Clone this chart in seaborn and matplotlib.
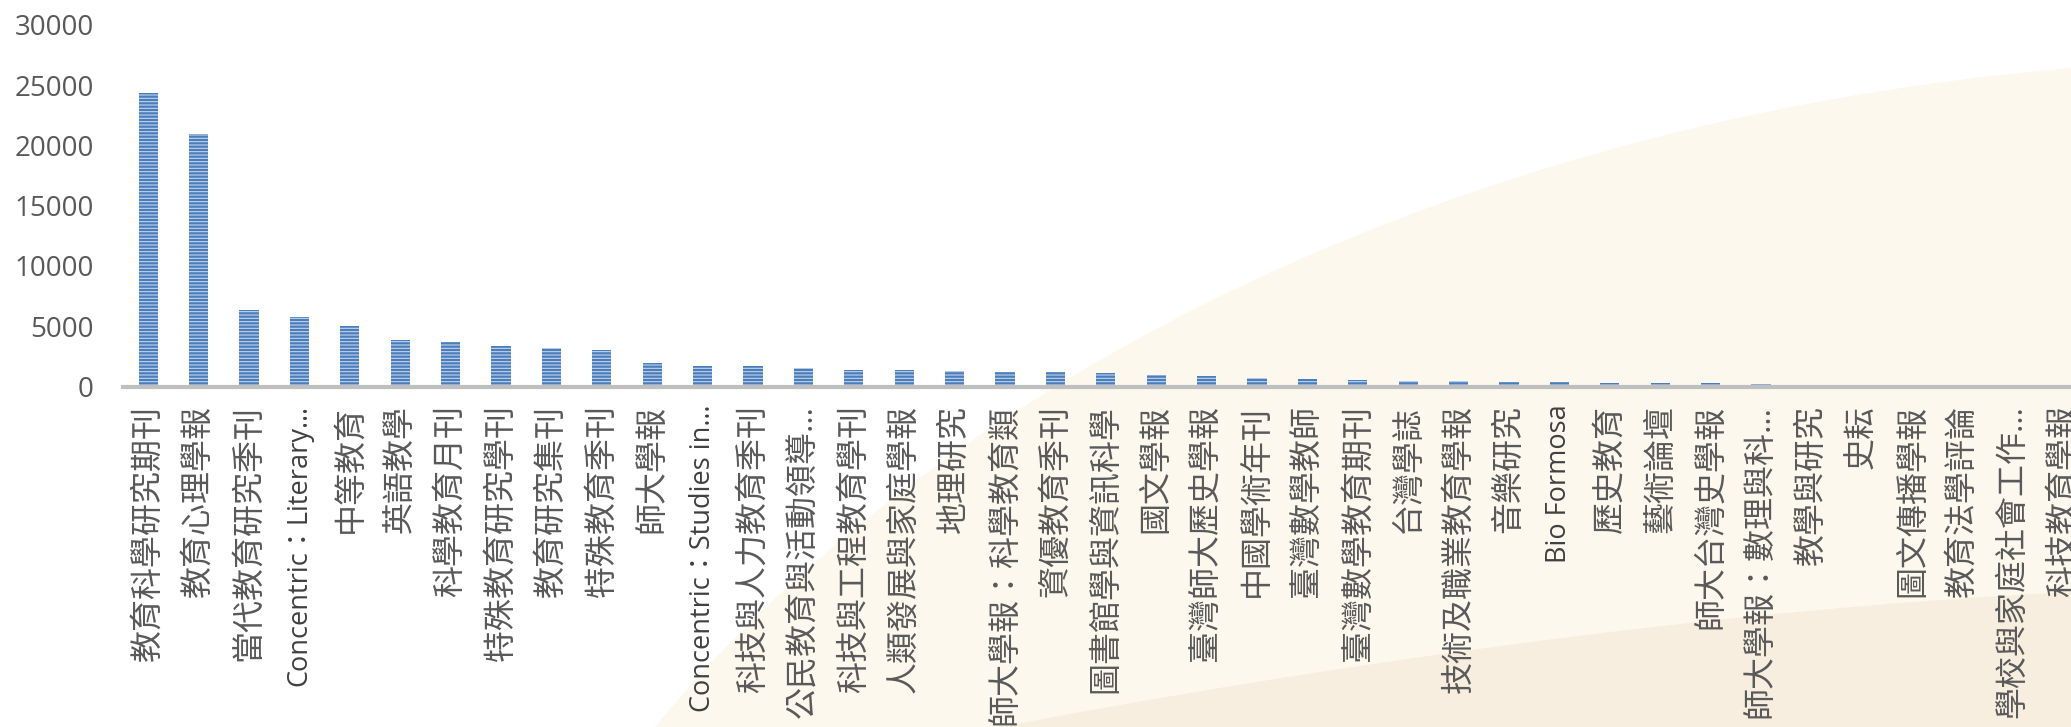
# 期刊下載量長條圖 (重繪)
import matplotlib
matplotlib.use('Agg')
import matplotlib.pyplot as plt
import matplotlib.patches as mpatches
from matplotlib.path import Path
import seaborn as sns
import re

# --- 資料 ---
journals = [
    '教育科學研究期刊', '教育心理學報', '當代教育研究季刊', 'Concentric：Literary…',
    '中等教育', '英語教學', '科學教育月刊', '特殊教育研究學刊', '教育研究集刊',
    '特殊教育季刊', '師大學報', 'Concentric：Studies in…', '科技與人力教育季刊',
    '公民教育與活動領導…', '科技與工程教育學刊', '人類發展與家庭學報', '地理研究',
    '師大學報：科學教育類', '資優教育季刊', '圖書館學與資訊科學', '國文學報',
    '臺灣師大歷史學報', '中國學術年刊', '臺灣數學教師', '臺灣數學教育期刊', '台灣學誌',
    '技術及職業教育學報', '音樂研究', 'Bio Formosa', '歷史教育', '藝術論壇',
    '師大台灣史學報', '師大學報：數理與科…', '教學與研究', '史耘', '圖文傳播學報',
    '教育法學評論', '學校與家庭社會工作…', '科技教育學報',
]
counts = [
    24350, 20950, 6340, 5750, 4990, 3880, 3690, 3330, 3220, 3030,
    1945, 1735, 1695, 1565, 1400, 1390, 1250, 1180, 1180, 1105,
    950, 880, 720, 660, 520, 460, 440, 410, 400, 310,
    280, 250, 170, 140, 130, 0, 0, 0, 0,
]
yticks = [0, 5000, 10000, 15000, 20000, 25000, 30000]

W, H = 2071, 727
TEXT = '#595959'

sns.set_style('white')
plt.rcParams['font.family'] = ['Open Sans', 'Noto Sans CJK TC', 'DejaVu Sans']
plt.rcParams['hatch.linewidth'] = 0.8

fig = plt.figure(figsize=(W / 100, H / 100), dpi=100)
fig.patch.set_facecolor('white')


def fp(x, y):
    # 像素 (由上往下) -> figure 比例座標
    return (x / W, 1 - y / H)


# --- 背景裝飾曲面 ---
light = [fp(655, 727), fp(905, 420), fp(1400, 125), fp(2071, 68),
         fp(2071, 727), fp(655, 727)]
codes = [Path.MOVETO, Path.CURVE4, Path.CURVE4, Path.CURVE4, Path.LINETO, Path.CLOSEPOLY]
fig.patches.append(mpatches.PathPatch(Path(light, codes), facecolor='#fcf8ee',
                                      edgecolor='none', transform=fig.transFigure, zorder=-2))
dark = [fp(1000, 727), fp(1300, 670), fp(1700, 610), fp(2071, 592),
        fp(2071, 727), fp(1000, 727)]
fig.patches.append(mpatches.PathPatch(Path(dark, codes), facecolor='#f8eedf',
                                      edgecolor='none', transform=fig.transFigure, zorder=-1))

ax = fig.add_axes([123 / W, 1 - 386.5 / H, 1 - 123 / W, 361.5 / H])
ax.set_facecolor('none')

sns.barplot(x=journals, y=counts, color='#4a7dbb', width=0.38, ax=ax,
            saturation=1, linewidth=0)
for p in ax.patches:
    p.set_hatch('-----')
    p.set_edgecolor('#c4d4ec')
    p.set_linewidth(0)

ax.set_xlim(-0.5, 38.15)
ax.set_ylim(0, 30000)
ax.set_yticks(yticks)
ax.set_yticklabels([str(v) for v in yticks])
ax.set_xlabel('')
ax.set_ylabel('')

for s in ['top', 'right', 'left']:
    ax.spines[s].set_visible(False)
ax.spines['bottom'].set_color('#bfbfbf')
ax.spines['bottom'].set_linewidth(3)
ax.spines['bottom'].set_zorder(5)

ax.tick_params(axis='y', length=0, pad=21, labelsize=20, labelcolor=TEXT)
ax.tick_params(axis='x', length=0, pad=13, labelcolor=TEXT)
for lab in ax.get_xticklabels():
    lab.set_rotation(90)
    lab.set_ha('center')
    lab.set_va('top')
    if re.search('[A-Za-z]', lab.get_text()):
        lab.set_fontsize(19.5)
        lab.set_color('#404040')
    else:
        lab.set_fontsize(23)

fig.savefig('out.png', dpi=100)
